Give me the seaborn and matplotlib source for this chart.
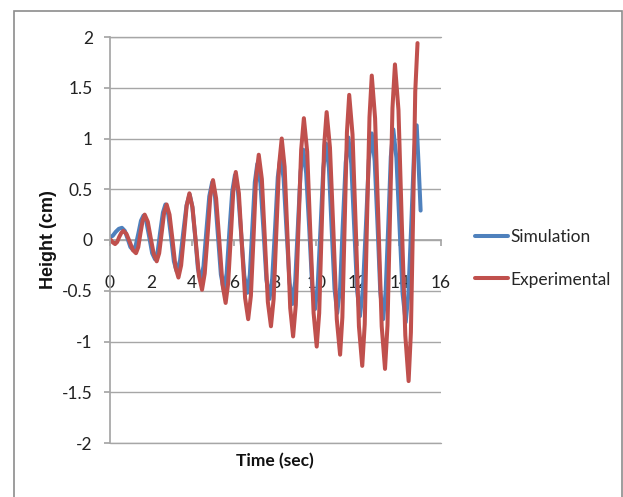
import seaborn as sns
import matplotlib.pyplot as plt
import matplotlib.patches as mpatches
import pandas as pd

# Simulation series (time in sec, height in cm)
sim_time = [0.00,
            0.15, 0.30, 0.45, 0.60, 0.74, 0.88, 1.01, 1.15,
            1.27, 1.40, 1.52, 1.64, 1.78, 1.92, 2.06, 2.20,
            2.33, 2.45, 2.58, 2.70, 2.84, 2.98, 3.11, 3.25,
            3.41, 3.56, 3.72, 3.87, 4.00, 4.14, 4.27, 4.40,
            4.54, 4.68, 4.82, 4.96, 5.10, 5.24, 5.38, 5.52,
            5.66, 5.79, 5.93, 6.06, 6.21, 6.36, 6.51, 6.66,
            6.78, 6.90, 7.02, 7.14, 7.29, 7.44, 7.58, 7.73,
            7.86, 8.00, 8.13, 8.26, 8.41, 8.55, 8.70, 8.84,
            8.97, 9.10, 9.23, 9.36, 9.50, 9.65, 9.79, 9.93,
            10.06, 10.20, 10.33, 10.46, 10.60, 10.73, 10.87, 11.00,
            11.14, 11.27, 11.41, 11.54, 11.68, 11.82, 11.96, 12.10,
            12.24, 12.39, 12.53, 12.67, 12.81, 12.95, 13.08, 13.22,
            13.34, 13.47, 13.59, 13.71, 13.86, 14.01, 14.16, 14.31,
            14.44, 14.58, 14.71, 14.84, 14.93, 15.03]
sim_height = [0.03,
              0.04, 0.08, 0.11, 0.12, 0.09, 0.01, -0.07, -0.10,
              -0.05, 0.07, 0.19, 0.24, 0.18, 0.03, -0.13, -0.19,
              -0.11, 0.08, 0.27, 0.35, 0.25, 0.02, -0.21, -0.31,
              -0.20, 0.07, 0.34, 0.45, 0.33, 0.03, -0.28, -0.40,
              -0.26, 0.09, 0.43, 0.57, 0.42, 0.04, -0.34, -0.49,
              -0.33, 0.08, 0.48, 0.64, 0.47, 0.06, -0.35, -0.52,
              -0.34, 0.12, 0.57, 0.75, 0.56, 0.09, -0.39, -0.58,
              -0.38, 0.12, 0.62, 0.82, 0.61, 0.10, -0.42, -0.63,
              -0.41, 0.13, 0.67, 0.89, 0.66, 0.11, -0.45, -0.68,
              -0.44, 0.14, 0.71, 0.95, 0.71, 0.12, -0.48, -0.72,
              -0.47, 0.15, 0.76, 1.01, 0.75, 0.13, -0.49, -0.75,
              -0.49, 0.15, 0.79, 1.05, 0.78, 0.14, -0.51, -0.78,
              -0.51, 0.16, 0.82, 1.09, 0.81, 0.14, -0.53, -0.81,
              -0.53, 0.16, 0.85, 1.13, 0.75, 0.29]

# Experimental series
exp_time = [0.00,
            0.07, 0.14, 0.20, 0.27, 0.37, 0.47, 0.57, 0.67,
            0.82, 0.98, 1.13, 1.28, 1.39, 1.49, 1.60, 1.70,
            1.85, 1.99, 2.14, 2.28, 2.40, 2.52, 2.64, 2.76,
            2.90, 3.05, 3.19, 3.33, 3.46, 3.60, 3.73, 3.86,
            4.01, 4.17, 4.32, 4.47, 4.60, 4.74, 4.87, 5.00,
            5.15, 5.31, 5.46, 5.61, 5.73, 5.86, 5.98, 6.10,
            6.25, 6.40, 6.55, 6.70, 6.83, 6.96, 7.08, 7.21,
            7.36, 7.51, 7.65, 7.80, 7.93, 8.06, 8.19, 8.32,
            8.46, 8.60, 8.73, 8.87, 9.00, 9.13, 9.26, 9.39,
            9.55, 9.70, 9.86, 10.01, 10.13, 10.25, 10.37, 10.49,
            10.65, 10.82, 10.98, 11.14, 11.25, 11.36, 11.47, 11.58,
            11.74, 11.90, 12.05, 12.21, 12.33, 12.44, 12.56, 12.67,
            12.83, 12.99, 13.15, 13.31, 13.43, 13.55, 13.67, 13.79,
            13.96, 14.12, 14.29, 14.45, 14.56, 14.67, 14.77, 14.88]
exp_height = [0.01,
              0.00, -0.02, -0.03, -0.04, -0.02, 0.03, 0.07, 0.09,
              0.06, -0.02, -0.10, -0.13, -0.07, 0.06, 0.19, 0.25,
              0.18, 0.02, -0.14, -0.21, -0.13, 0.07, 0.27, 0.35,
              0.25, -0.01, -0.27, -0.37, -0.25, 0.05, 0.34, 0.46,
              0.32, -0.02, -0.35, -0.49, -0.33, 0.05, 0.43, 0.59,
              0.41, -0.02, -0.44, -0.62, -0.43, 0.03, 0.48, 0.67,
              0.46, -0.06, -0.57, -0.78, -0.55, 0.03, 0.61, 0.84,
              0.60, -0.01, -0.61, -0.85, -0.58, 0.08, 0.73, 1.00,
              0.72, 0.03, -0.67, -0.95, -0.64, 0.13, 0.89, 1.20,
              0.87, 0.08, -0.72, -1.05, -0.72, 0.11, 0.93, 1.26,
              0.91, 0.07, -0.78, -1.13, -0.76, 0.15, 1.06, 1.43,
              1.04, 0.10, -0.85, -1.24, -0.83, 0.19, 1.21, 1.62,
              1.20, 0.18, -0.85, -1.27, -0.84, 0.23, 1.30, 1.73,
              1.28, 0.17, -0.94, -1.39, -0.91, 0.28, 1.46, 1.94]

x_ticks = [0, 2, 4, 6, 8, 10, 12, 14, 16]
y_ticks = [-2, -1.5, -1, -0.5, 0, 0.5, 1, 1.5, 2]
y_tick_labels = ["-2", "-1.5", "-1", "-0.5", "0", "0.5", "1", "1.5", "2"]

sim_df = pd.DataFrame({"time": sim_time, "height": sim_height, "series": "Simulation"})
exp_df = pd.DataFrame({"time": exp_time, "height": exp_height, "series": "Experimental"})
df = pd.concat([sim_df, exp_df], ignore_index=True)

sns.set_theme(style="white")
plt.rcParams["font.family"] = ["Lato", "DejaVu Sans"]

grid_gray = "#a6a6a6"
fig = plt.figure(figsize=(6.23, 4.97), dpi=100)
ax = fig.add_axes([109.5 / 623, 54 / 497, 331.2 / 623, 406 / 497])

sns.lineplot(data=df, x="time", y="height", hue="series",
             palette={"Simulation": "#4f81bd", "Experimental": "#c0504d"},
             estimator=None, sort=False, linewidth=2.9, ax=ax)

ax.set_xlim(0, 16)
ax.set_ylim(-2, 2)
ax.set_xticks(x_ticks)
ax.set_xticklabels([str(t) for t in x_ticks])
ax.set_yticks(y_ticks)
ax.set_yticklabels(y_tick_labels)

# horizontal grid only, excel style
ax.yaxis.grid(True, color=grid_gray, linewidth=1)
ax.xaxis.grid(False)
for y in [-2, 2]:
    ax.axhline(y, color=grid_gray, linewidth=1, clip_on=False, zorder=0)

ax.spines["top"].set_visible(False)
ax.spines["right"].set_visible(False)
ax.spines["bottom"].set_position(("data", 0))
ax.spines["bottom"].set_color(grid_gray)
ax.spines["left"].set_color(grid_gray)
ax.spines["bottom"].set_zorder(0)

ax.tick_params(axis="x", direction="out", length=4, color=grid_gray,
               pad=21, labelsize=12.5, labelcolor="#222222", bottom=True)
ax.tick_params(axis="y", direction="out", length=4, color=grid_gray,
               pad=8, labelsize=12.5, labelcolor="#222222", left=True)

ax.set_xlabel("Time (sec)", fontsize=12.5, fontweight="bold", color="#111111")
ax.xaxis.set_label_coords(0.5, -0.025)
ax.set_ylabel("Height (cm)", fontsize=13, fontweight="bold", color="#111111",
              family=["Liberation Sans", "DejaVu Sans"])
ax.yaxis.set_label_coords(-0.158, 0.5)

ax.legend(loc="center left", bbox_to_anchor=(475 / 623, 1 - 258.5 / 497),
          bbox_transform=fig.transFigure, frameon=False, fontsize=12.5,
          handlelength=1.9, handletextpad=0.15, labelspacing=1.5,
          borderpad=0, borderaxespad=0, title=None)

# chart area border
border = mpatches.Rectangle((14 / 623, -0.05), 608 / 623, 1.05 - 11 / 497,
                            transform=fig.transFigure, fill=False,
                            edgecolor="#8c8c8c", linewidth=1.2)
fig.patches.append(border)

fig.savefig("out.png", dpi=100)
